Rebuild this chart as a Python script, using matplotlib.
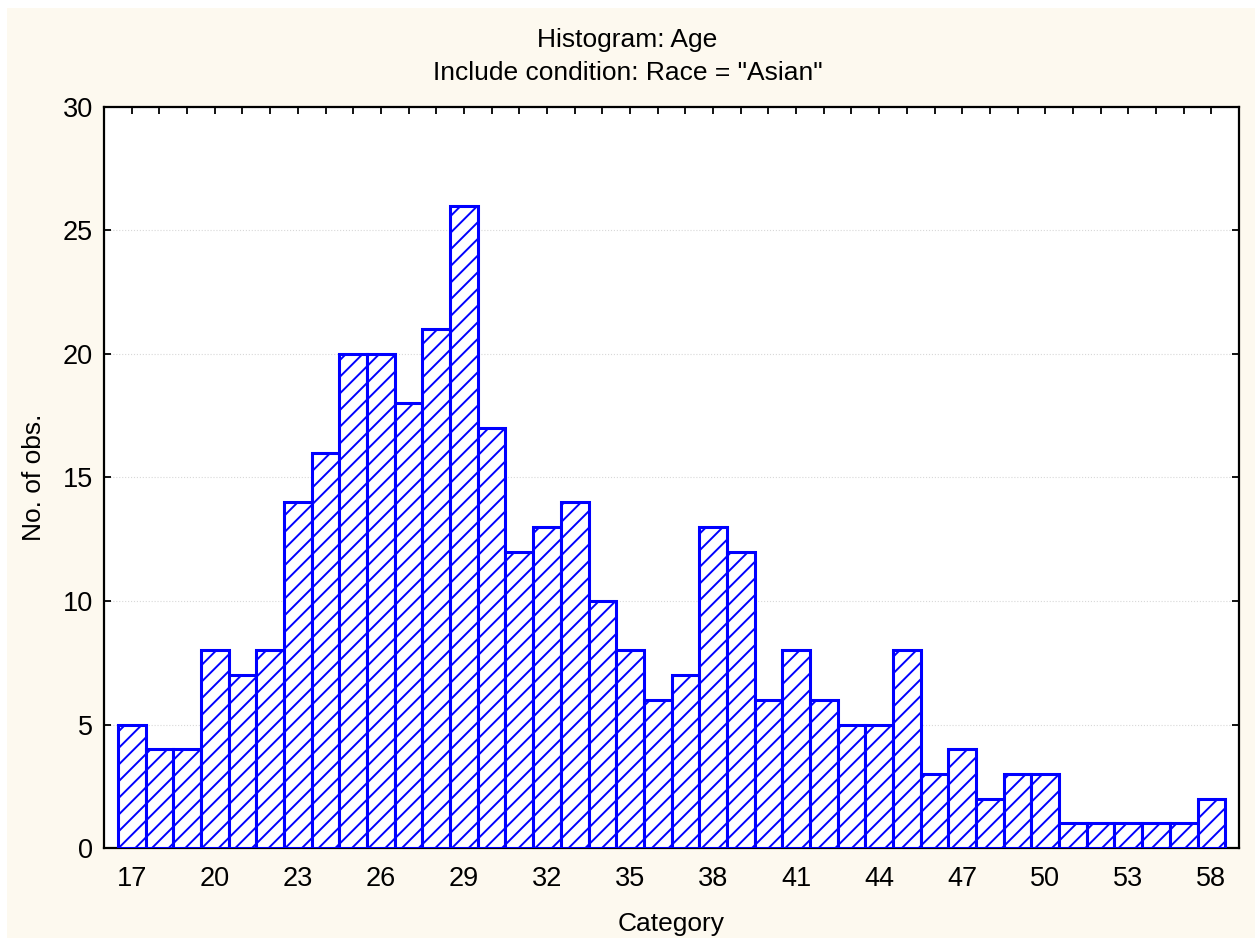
import numpy as np
import matplotlib.pyplot as plt
from matplotlib.patches import Rectangle

plt.rcParams['font.family'] = ['Liberation Sans', 'DejaVu Sans']
plt.rcParams['hatch.color'] = 'blue'
plt.rcParams['hatch.linewidth'] = 1.4

# dados
ages = [17, 18, 19, 20, 21, 22, 23, 24, 25, 26, 27, 28, 29, 30, 31, 32, 33, 34, 35, 36,
        37, 38, 39, 40, 41, 42, 43, 44, 45, 46, 47, 48, 49, 50, 51, 52, 53, 54, 55, 58]
counts = [5, 4, 4, 8, 7, 8, 14, 16, 20, 20, 18, 21, 26, 17, 12, 13, 14, 10, 8, 6,
          7, 13, 12, 6, 8, 6, 5, 5, 8, 3, 4, 2, 3, 3, 1, 1, 1, 1, 1, 2]
yticks = [0, 5, 10, 15, 20, 25, 30]

fig = plt.figure(figsize=(12.55, 9.38), dpi=100)
fig.patch.set_facecolor('white')
fig.patches.append(Rectangle((7/1255, 0), 1 - 7/1255, 1 - 8/938, transform=fig.transFigure,
                             facecolor='#fdf9ef', edgecolor='none', zorder=-10))

ax = fig.add_axes([0.0829, 0.0959, 0.9044, 0.7901])
ax.set_facecolor('white')

x = np.arange(len(ages))
ax.bar(x, counts, width=1.0, facecolor='white', edgecolor='blue', hatch='//',
       linewidth=2.2, zorder=3)

ax.set_xlim(-1, len(ages))
ax.set_ylim(0, 30)
ax.set_yticks(yticks)
ax.set_xticks(x[::3])
ax.set_xticklabels([str(ages[i]) for i in x[::3]])
ax.set_xticks(x, minor=True)

ax.grid(axis='y', linestyle=':', color='#d8d8d8', linewidth=0.8, zorder=0)
ax.tick_params(axis='both', which='both', direction='in', top=True, right=True,
               labelsize=19.5, width=1.3, color='black')
ax.tick_params(axis='y', which='major', length=5, pad=8)
ax.tick_params(axis='x', which='major', length=5, pad=13)
ax.tick_params(axis='x', which='minor', length=5)
for s in ax.spines.values():
    s.set_linewidth(1.6)

ax.set_xlabel('Category', fontsize=19, labelpad=14)
ax.set_ylabel('No. of obs.', fontsize=19, labelpad=12)

fig.text(0.5, 1 - 40/938, 'Histogram: Age', ha='center', va='center', fontsize=19)
fig.text(0.5, 1 - 73/938, 'Include condition: Race = "Asian"', ha='center', va='center', fontsize=19)

fig.savefig('out.png', dpi=100, facecolor=fig.get_facecolor())
